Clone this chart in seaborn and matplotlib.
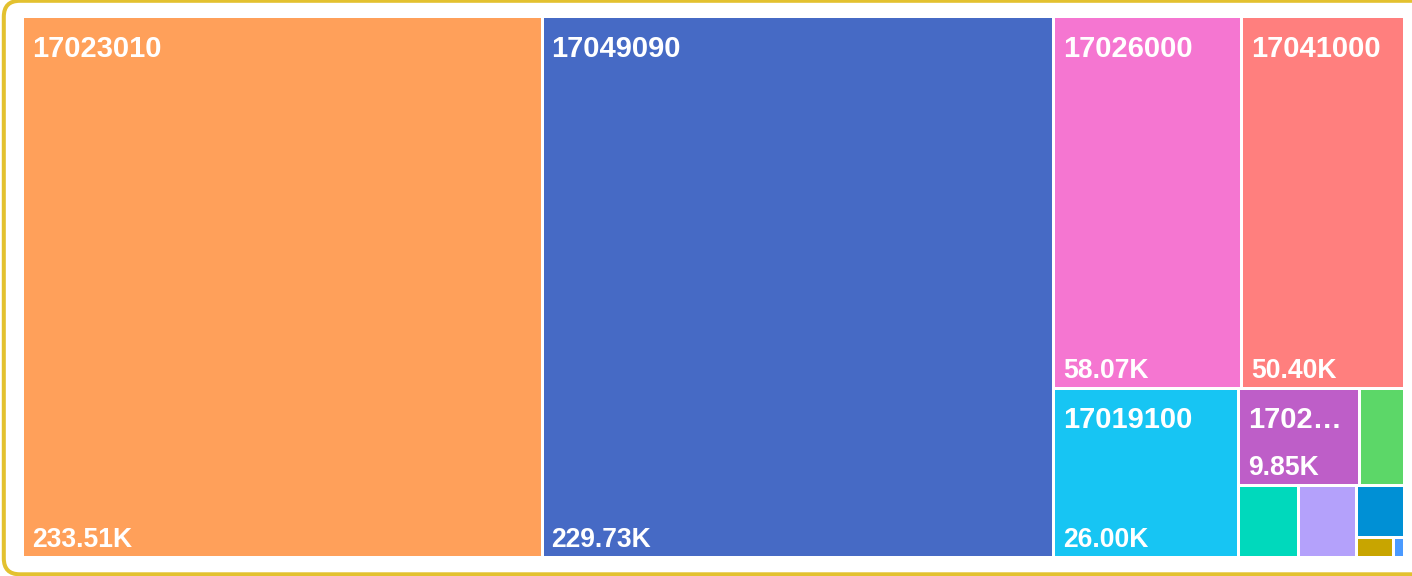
import numpy as np
import matplotlib
matplotlib.use("Agg")
import matplotlib.pyplot as plt
import seaborn as sns
from matplotlib.patches import Rectangle, FancyBboxPatch

# Data (values in thousands)
codes = ["17023010", "17049090", "17026000", "17041000", "17019100", "17020000",
         "17019910", "17029090", "17049010", "17011400", "17024000", "17031000"]
values = [233.51, 229.73, 58.07, 50.40, 26.00, 9.85, 3.62, 3.58, 3.45, 2.08, 0.60, 0.18]
colors = ["#FFA05A", "#466AC5", "#F576D1", "#FF7F7E", "#17C5F3", "#BE5EC8",
          "#5CD768", "#00D9BC", "#B4A1FB", "#0090D5", "#C8A500", "#4A9AFF"]

GOLDEN = 0.5 * (1 + np.sqrt(5))


def worst(row_areas, fixed, ratio):
    s = sum(row_areas)
    f = fixed * fixed * ratio
    return max(f * max(row_areas) / (s * s), (s * s) / (f * min(row_areas)))


def position(row, areas, fixed, rect, out, flush):
    area = sum(areas[i] for i in row)
    along_x = fixed == rect["w"]
    other = area / fixed
    lim = rect["h"] if along_x else rect["w"]
    if flush or other > lim:
        other = lim
    last = rect["x"] if along_x else rect["y"]
    end = (rect["x"] + rect["w"]) if along_x else (rect["y"] + rect["h"])
    for k, idx in enumerate(row):
        step = areas[idx] / other
        remain = end - last
        mod = remain if (k == len(row) - 1 or remain < step) else step
        if along_x:
            out[idx] = (last, rect["y"], mod, other)
        else:
            out[idx] = (rect["x"], last, other, mod)
        last += mod
    if along_x:
        rect["y"] += other
        rect["h"] -= other
    else:
        rect["x"] += other
        rect["w"] -= other


def squarify(vals, x, y, w, h, ratio=GOLDEN):
    total = sum(vals)
    areas = [v * w * h / total for v in vals]
    rect = {"x": x, "y": y, "w": w, "h": h}
    out = [None] * len(vals)
    row, best = [], np.inf
    fixed = min(w, h)
    i = 0
    while i < len(vals):
        row.append(i)
        score = worst([areas[j] for j in row], fixed, ratio)
        if score <= best:
            i += 1
            best = score
        else:
            row.pop()
            position(row, areas, fixed, rect, out, False)
            fixed = min(rect["w"], rect["h"])
            row, best = [], np.inf
    if row:
        position(row, areas, fixed, rect, out, True)
    return out


sns.set_theme(style="white")
plt.rcParams["font.family"] = ["Liberation Sans", "DejaVu Sans"]

W, H = 1412, 576
fig = plt.figure(figsize=(W / 100, H / 100), dpi=100)
ax = fig.add_axes([0, 0, 1, 1])
ax.set_xlim(0, W)
ax.set_ylim(H, 0)
ax.axis("off")

# outer rounded frame (right edge runs past the image)
frame = FancyBboxPatch((3.8, 0.8), 1425, 573.5, boxstyle="round,pad=0,rounding_size=16",
                       fc="white", ec="#E3C12F", lw=2.9, zorder=0)
ax.add_patch(frame)

cells = squarify(values, 22, 16.2, 1382, 540.6)

renderer = fig.canvas.get_renderer()
fs = 21
fs_val = 19.1


def text_width(s):
    t = ax.text(0, 0, s, fontsize=fs, fontweight="bold")
    bb = t.get_window_extent(renderer=renderer)
    t.remove()
    return bb.width


def fit(s, maxw):
    if text_width(s) <= maxw:
        return s
    for n in range(len(s) - 1, 0, -1):
        cand = s[:n] + "…"
        if text_width(cand) <= maxw:
            return cand
    return None


for code, v, c, (x, y, w, h) in zip(codes, values, colors, cells):
    ax.add_patch(Rectangle((x, y), w, h, fc=c, ec="white", lw=2.16, zorder=2))
    label = fit(code, w - 20)
    if label is None or h < 70:
        continue
    ax.text(x + 10, y + 18.5, label, color="white", fontsize=fs, fontweight="bold",
            ha="left", va="top", zorder=3)
    ax.text(x + 10, y + h - 10, f"{v:.2f}K", color="white", fontsize=fs_val,
            fontweight="bold", ha="left", va="baseline", zorder=3)

fig.savefig("out.png", dpi=100)
